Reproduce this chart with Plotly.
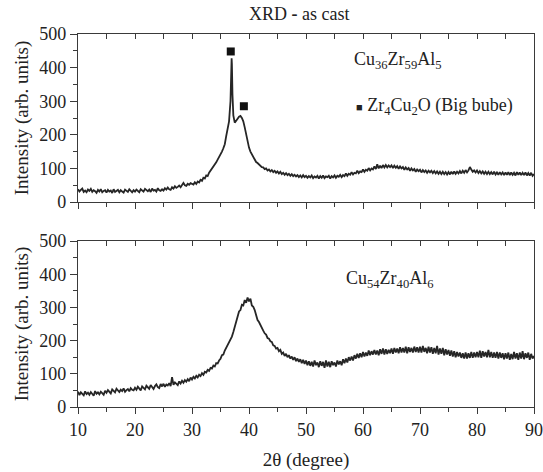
import numpy as np
import plotly.graph_objects as go

# 2-theta grid (degrees), 0.25 degree step
two_theta = np.linspace(10.0, 90.0, 321)

# Cu36Zr59Al5 intensity on the 0.25 degree grid (one row = 5 degrees)
cu36_intensity = [
    38, 31, 36, 40, 30, 34, 29, 37, 33, 39, 30, 35, 32, 27, 36, 31, 38, 29, 33, 35,
    28, 36, 31, 34, 27, 38, 30, 33, 36, 29, 35, 31, 28, 37, 33, 30, 38, 32, 29, 35,
    31, 37, 33, 29, 38, 34, 31, 39, 35, 32, 37, 30, 40, 34, 36, 31, 41, 35, 33, 38,
    34, 41, 37, 43, 38, 36, 44, 40, 47, 42, 45, 49, 44, 52, 57, 50, 48, 54, 51, 56,
    55, 52, 59, 54, 61, 58, 66, 63, 72, 70, 79, 77, 87, 93, 98, 106, 112, 118, 126, 133,
    142, 150, 160, 172, 196, 214, 240, 300, 410, 258, 236, 244, 248, 254, 256, 250, 240, 222, 200, 178,
    162, 150, 143, 132, 127, 119, 116, 111, 109, 104, 103, 98, 100, 94, 97, 91, 95, 89, 93, 87,
    91, 85, 90, 83, 87, 81, 86, 80, 84, 78, 83, 77, 81, 76, 80, 74, 79, 73, 80, 74,
    78, 72, 77, 73, 79, 71, 76, 73, 78, 70, 77, 72, 79, 71, 76, 74, 78, 70, 77, 73,
    79, 72, 78, 75, 81, 74, 80, 77, 85, 78, 84, 81, 89, 82, 87, 85, 93, 86, 91, 89,
    97, 90, 96, 93, 101, 94, 100, 97, 106, 98, 112, 100, 108, 101, 110, 103, 110, 103, 109, 104,
    109, 101, 108, 102, 107, 99, 106, 100, 104, 96, 103, 97, 101, 93, 100, 94, 98, 90, 97, 92,
    96, 88, 95, 89, 94, 87, 93, 88, 93, 86, 92, 85, 91, 84, 90, 83, 90, 83, 89, 82,
    89, 82, 90, 83, 91, 84, 90, 85, 92, 85, 93, 87, 95, 88, 94, 104, 97, 90, 94, 88,
    94, 86, 92, 85, 91, 84, 90, 83, 90, 83, 89, 82, 90, 82, 88, 81, 89, 82, 88, 80,
    88, 81, 89, 80, 88, 81, 87, 79, 89, 81, 88, 80, 87, 80, 88, 79, 86, 79, 87, 78,
    83,
]

# extra readings across the sharp reflection near 37 degrees
cu36_peak_theta = [36.85, 36.95, 37.1]
cu36_peak_intensity = [385, 428, 320]

# Cu54Zr40Al6 intensity on the 0.25 degree grid (one row = 5 degrees)
cu54_intensity = [
    46, 36, 44, 40, 35, 47, 39, 43, 37, 45, 41, 34, 48, 40, 44, 38, 46, 42, 37, 49,
    43, 51, 46, 41, 53, 47, 44, 55, 49, 45, 52, 48, 56, 46, 51, 54, 47, 57, 52, 50,
    58, 52, 61, 55, 50, 62, 57, 53, 64, 58, 55, 66, 59, 54, 63, 68, 60, 57, 69, 62,
    70, 61, 68, 65, 72, 63, 90, 67, 74, 69, 66, 77, 71, 79, 73, 81, 76, 84, 78, 89,
    83, 91, 86, 94, 89, 97, 93, 102, 97, 106, 104, 112, 109, 118, 116, 125, 122, 132, 131, 140,
    145, 156, 158, 170, 178, 190, 195, 206, 212, 226, 242, 256, 276, 288, 292, 308, 306, 322, 314, 330,
    318, 326, 306, 302, 292, 278, 262, 256, 246, 236, 230, 222, 218, 208, 206, 198, 196, 186, 184, 176,
    178, 168, 172, 160, 164, 154, 160, 150, 156, 146, 152, 142, 150, 138, 146, 136, 144, 132, 142, 130,
    140, 126, 138, 124, 136, 122, 140, 126, 134, 120, 138, 124, 136, 118, 140, 122, 136, 120, 138, 126,
    134, 122, 140, 128, 138, 126, 144, 132, 146, 134, 150, 140, 152, 140, 156, 146, 160, 148, 162, 150,
    166, 152, 164, 154, 170, 156, 168, 158, 172, 158, 170, 156, 174, 160, 176, 158, 174, 160, 172, 162,
    176, 160, 178, 164, 176, 162, 180, 164, 178, 164, 182, 162, 180, 166, 178, 164, 182, 166, 180, 164,
    182, 164, 184, 166, 178, 162, 182, 164, 180, 160, 178, 162, 184, 158, 176, 160, 178, 156, 174, 158,
    172, 154, 170, 152, 168, 150, 166, 152, 164, 148, 162, 146, 164, 146, 162, 148, 166, 148, 164, 150,
    166, 150, 170, 148, 168, 152, 166, 150, 172, 150, 166, 148, 164, 148, 166, 146, 164, 148, 162, 144,
    162, 146, 164, 142, 160, 144, 166, 146, 162, 142, 164, 146, 168, 144, 162, 148, 164, 142, 160, 146,
    154,
]

# Zr4Cu2O (big cube) reflections marked above the pattern
phase_theta = [36.8, 39.1]
phase_marker_height = [448, 285]

x_ticks = [10, 20, 30, 40, 50, 60, 70, 80, 90]
y_ticks = [0, 100, 200, 300, 400, 500]

# merge the grid with the peak readings for the top pattern
top_x = np.concatenate([two_theta, cu36_peak_theta])
top_y = np.concatenate([cu36_intensity, cu36_peak_intensity])
order = np.argsort(top_x)
top_x, top_y = top_x[order], top_y[order]

FAMILY = "Liberation Serif"
INK = "#262626"
AXIS = "#3a3a3a"
TXT = "#222222"


def serif(size):
    return dict(family=FAMILY, size=size, color=TXT)


fig = go.Figure()
fig.add_trace(go.Scatter(x=top_x, y=top_y, mode="lines",
                         line=dict(color=INK, width=1.8),
                         xaxis="x", yaxis="y", showlegend=False))
fig.add_trace(go.Scatter(x=phase_theta, y=phase_marker_height, mode="markers",
                         marker=dict(symbol="square", size=8, color="#111111"),
                         xaxis="x", yaxis="y", showlegend=False))
fig.add_trace(go.Scatter(x=two_theta, y=cu54_intensity, mode="lines",
                         line=dict(color=INK, width=1.8),
                         xaxis="x2", yaxis="y2", showlegend=False))
# carriers for the top-edge tick axes
fig.add_trace(go.Scatter(x=[], y=[], xaxis="x3", yaxis="y", showlegend=False))
fig.add_trace(go.Scatter(x=[], y=[], xaxis="x4", yaxis="y2", showlegend=False))

bottom_x = dict(range=[10, 90], tickvals=x_ticks, ticks="outside", ticklen=6,
                tickwidth=1.2, tickcolor=AXIS, showline=True, linecolor=AXIS,
                linewidth=1.3, showgrid=False, zeroline=False,
                tickfont=serif(18),
                minor=dict(dtick=5, tick0=0, ticks="outside", ticklen=4,
                           tickcolor=AXIS, tickwidth=1.2, showgrid=False))
top_edge = dict(range=[10, 90], dtick=5, tick0=0, ticks="inside", ticklen=5,
                tickwidth=1.2, tickcolor=AXIS, showline=True, linecolor=AXIS,
                linewidth=1.3, showgrid=False, zeroline=False,
                showticklabels=False, side="top")
y_common = dict(range=[0, 500], tickvals=y_ticks, ticks="outside", ticklen=7,
                tickwidth=1.2, tickcolor=AXIS, showline=True, linecolor=AXIS,
                linewidth=1.3, mirror=True, showgrid=False, zeroline=False,
                tickfont=serif(18),
                minor=dict(dtick=50, ticks="outside", ticklen=4,
                           tickcolor=AXIS, tickwidth=1.2, showgrid=False),
                title=dict(text="Intensity (arb. units)", font=serif(19),
                           standoff=5))

fig.update_layout(
    template="none",
    width=543, height=472,
    margin=dict(l=78, r=9, t=34, b=65),
    paper_bgcolor="white", plot_bgcolor="white",
    font=serif(18),
    xaxis=dict(**bottom_x, anchor="y", domain=[0, 1], showticklabels=False),
    xaxis2=dict(**bottom_x, anchor="y2", domain=[0, 1],
                title=dict(text="2θ (degree)", font=serif(19), standoff=13)),
    xaxis3=dict(**top_edge, overlaying="x", anchor="y"),
    xaxis4=dict(**top_edge, overlaying="x2", anchor="y2"),
    yaxis=dict(**y_common, anchor="x", domain=[0.5496, 1.0]),
    yaxis2=dict(**y_common, anchor="x2", domain=[0.0, 0.445]),
    showlegend=False,
)

fig.add_annotation(text="XRD <b>-</b> as cast", xref="paper", yref="paper",
                   x=0.486, y=1.054, showarrow=False, font=serif(18),
                   xanchor="center", yanchor="middle")
fig.add_annotation(text="Cu<sub>36</sub>Zr<sub>59</sub>Al<sub>5</sub>",
                   xref="x", yref="y", x=66.1, y=420, showarrow=False,
                   font=serif(18), xanchor="center", yanchor="middle")
fig.add_annotation(text="<span style='font-size:11px'>■</span> Zr<sub>4</sub>Cu<sub>2</sub>O (Big bube)",
                   xref="x", yref="y", x=72.6, y=285, showarrow=False,
                   font=serif(18), xanchor="center", yanchor="middle")
fig.add_annotation(text="Cu<sub>54</sub>Zr<sub>40</sub>Al<sub>6</sub>",
                   xref="x2", yref="y2", x=64.7, y=385, showarrow=False,
                   font=serif(18), xanchor="center", yanchor="middle")

fig.write_html("out.html")
